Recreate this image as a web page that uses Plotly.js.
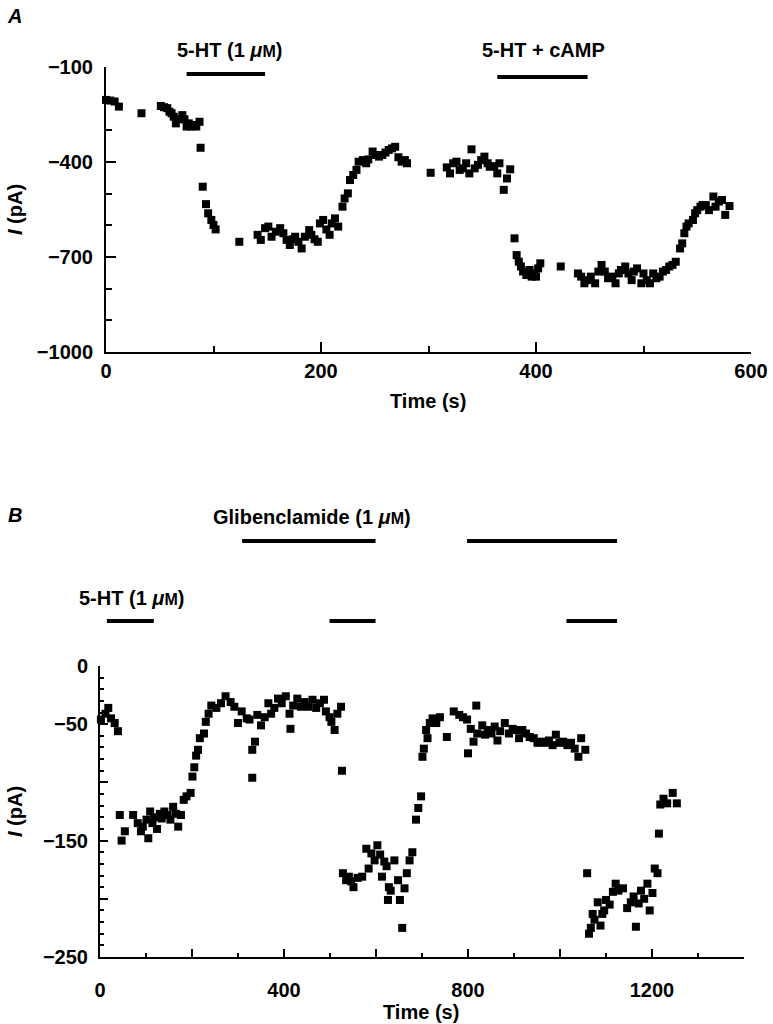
<!DOCTYPE html>
<html><head><meta charset="utf-8">
<script src="https://cdn.plot.ly/plotly-3.0.1.min.js"></script>
<style>body{margin:0;background:#fff}#chart{width:773px;height:1024px}</style>
</head><body><div id="chart"></div>
<script>
// ---- Panel A data: time (s) and current (pA)
const aTime = [0,4,8,12,33,51,54,57,59,61,63,65,67,71,73,75,77,79,82,84,87,88,90,93,95,98,100,102,124,141,144,148,151,154,158,162,165,168,171,174,176,179,182,185,189,191,194,197,199,202,205,208,210,213,216,220,222,225,227,230,233,235,239,242,244,248,251,254,257,260,263,266,269,272,275,278,280,302,317,320,323,326,329,332,335,338,340,343,346,349,352,355,357,361,364,366,370,373,376,380,382,384,386,388,391,394,396,399,400,402,404,423,439,442,445,448,451,455,458,461,464,467,471,474,477,479,483,486,489,491,494,498,500,503,506,509,512,515,518,521,524,527,530,534,536,538,540,542,546,548,550,553,555,558,561,565,567,570,573,576,580];
const aCurrent = [-204,-206,-209,-225,-246,-223,-227,-230,-241,-246,-257,-278,-265,-252,-265,-288,-278,-288,-283,-288,-273,-355,-478,-533,-562,-583,-599,-613,-652,-630,-646,-609,-604,-636,-620,-609,-625,-646,-662,-644,-636,-652,-673,-636,-615,-630,-644,-652,-594,-583,-613,-630,-594,-578,-604,-541,-515,-499,-457,-441,-425,-399,-394,-404,-392,-367,-378,-383,-378,-370,-362,-357,-352,-385,-399,-394,-404,-434,-417,-436,-404,-399,-425,-420,-404,-436,-360,-420,-409,-394,-383,-404,-415,-413,-436,-404,-488,-452,-423,-641,-694,-715,-730,-746,-757,-741,-762,-752,-762,-736,-720,-730,-752,-762,-783,-773,-762,-783,-746,-725,-746,-767,-762,-783,-752,-741,-730,-752,-773,-746,-736,-783,-752,-773,-783,-752,-767,-762,-746,-741,-730,-725,-715,-673,-657,-625,-604,-594,-583,-562,-552,-541,-536,-536,-552,-509,-541,-525,-520,-567,-539];

// ---- Panel B data: time (s) and current (pA)
const bTime = [2,12,18,24,32,39,43,47,54,72,82,89,93,101,105,109,114,118,124,130,134,140,147,153,159,165,170,176,182,188,197,201,205,209,213,217,226,230,236,242,253,263,273,284,292,300,308,319,325,331,337,331,342,350,358,366,372,379,387,395,404,412,414,420,429,437,445,453,462,470,478,487,491,499,503,510,516,524,526,528,535,541,546,551,560,570,579,584,590,597,603,609,613,618,623,628,626,632,640,648,652,657,662,667,673,679,687,692,698,701,704,709,712,717,723,731,739,754,769,781,789,798,800,806,812,818,820,831,837,843,851,858,864,870,880,889,897,905,911,918,926,934,943,951,959,967,976,984,991,999,1007,1016,1024,1032,1040,1046,1055,1059,1063,1067,1071,1075,1082,1088,1092,1096,1100,1108,1115,1121,1127,1137,1146,1154,1160,1165,1171,1176,1183,1190,1195,1201,1206,1212,1215,1218,1225,1233,1245,1254];
const bCurrent = [-46,-41,-36,-45,-49,-56,-128,-150,-142,-128,-135,-142,-138,-132,-148,-125,-135,-130,-140,-127,-131,-125,-128,-132,-121,-127,-138,-128,-115,-112,-109,-95,-87,-77,-72,-62,-58,-48,-41,-34,-36,-32,-26,-31,-35,-49,-39,-45,-46,-72,-65,-96,-42,-51,-44,-32,-41,-36,-28,-32,-26,-41,-54,-34,-28,-35,-31,-35,-29,-36,-32,-29,-39,-44,-48,-55,-41,-35,-90,-178,-184,-181,-185,-190,-182,-181,-157,-174,-161,-167,-154,-162,-181,-168,-172,-190,-201,-193,-167,-184,-201,-225,-191,-178,-167,-160,-132,-122,-112,-78,-71,-55,-62,-49,-45,-49,-44,-61,-39,-42,-44,-46,-75,-54,-65,-34,-58,-51,-59,-55,-58,-52,-64,-56,-49,-58,-54,-55,-62,-55,-58,-61,-62,-66,-65,-66,-64,-68,-59,-66,-65,-68,-66,-71,-78,-62,-72,-178,-230,-225,-213,-218,-203,-223,-213,-210,-201,-205,-194,-187,-193,-191,-208,-203,-198,-224,-204,-193,-200,-187,-210,-195,-174,-178,-144,-119,-114,-118,-109,-118];

// ---- Drug application periods (s)
const aBarLabels = ['5-HT (1 <i>μ</i><span style="font-size:16px">M</span>)', '5-HT + cAMP'];
const aBarStart = [75, 364];
const aBarEnd = [148, 448];
const bGlibLabel = 'Glibenclamide (1 <i>μ</i><span style="font-size:16px">M</span>)';
const bGlibStart = [309, 798];
const bGlibEnd = [599, 1124];
const bHTLabel = '5-HT (1 <i>μ</i><span style="font-size:16px">M</span>)';
const bHTStart = [15, 499, 1014];
const bHTEnd = [117, 599, 1124];

// ---- Tick labels
const bXTickVals = [0,200,400,600,800,1000,1200,1400];
const bXTickText = ['0','','400','','800','','1200',''];
const bYTickVals = [0,-50,-100,-150,-200,-250];
const bYTickText = ['0','\u221250','','\u2212150','','\u2212250'];

const W = 773, H = 1024;
const px = v => v / W;
const py = v => 1 - v / H;
const FONT = {family: 'Liberation Sans, Arial, sans-serif', size: 20, color: '#000', weight: 'bold'};

const marker = {symbol: 'square', size: 8, color: '#000', line: {width: 0}};
const traces = [
  {x: aTime, y: aCurrent, xaxis: 'x', yaxis: 'y', type: 'scatter', mode: 'markers', marker, cliponaxis: false, hoverinfo: 'skip'},
  {x: bTime, y: bCurrent, xaxis: 'x2', yaxis: 'y2', type: 'scatter', mode: 'markers', marker, cliponaxis: false, hoverinfo: 'skip'}
];

const axisCommon = {
  showline: true, linewidth: 2, linecolor: '#000', mirror: false,
  showgrid: false, zeroline: false, ticks: 'inside', tickwidth: 2,
  tickcolor: '#000', tickfont: FONT, fixedrange: true
};

const shapes = [];
const barLine = {color: '#000', width: 4};
aBarStart.forEach((s, i) => shapes.push({type: 'line', xref: 'x', yref: 'paper', x0: s, x1: aBarEnd[i], y0: py(i === 0 ? 74 : 77), y1: py(i === 0 ? 74 : 77), line: barLine}));
bGlibStart.forEach((s, i) => shapes.push({type: 'line', xref: 'x2', yref: 'paper', x0: s, x1: bGlibEnd[i], y0: py(541), y1: py(541), line: barLine}));
bHTStart.forEach((s, i) => shapes.push({type: 'line', xref: 'x2', yref: 'paper', x0: s, x1: bHTEnd[i], y0: py(621), y1: py(621), line: barLine}));

const ann = (text, x, y, extra) => Object.assign({text, x: px(x), y: py(y), xref: 'paper', yref: 'paper', showarrow: false, xanchor: 'center', yanchor: 'middle', font: FONT}, extra || {});
const annotations = [
  ann('<i>A</i>', 15, 16),
  ann(aBarLabels[0], 229, 50),
  ann(aBarLabels[1], 543, 50),
  ann('<i>I</i> (pA)', 15, 209, {textangle: -90}),
  ann('Time (s)', 428, 401),
  ann('<i>B</i>', 15, 515),
  ann(bGlibLabel, 312, 517),
  ann(bHTLabel, 131, 598),
  ann('<i>I</i> (pA)', 15, 811, {textangle: -90}),
  ann('Time (s)', 421, 1012)
];

const layout = {
  width: W, height: H, margin: {l: 0, r: 0, t: 0, b: 0},
  paper_bgcolor: '#fff', plot_bgcolor: '#fff', showlegend: false, font: FONT,
  xaxis: Object.assign({}, axisCommon, {domain: [px(106), px(751)], range: [0, 600], anchor: 'y', tick0: 0, dtick: 200, ticklen: 10, ticklabelstandoff: 0,
    minor: {ticks: 'inside', ticklen: 6, tickwidth: 2, tickcolor: '#000', dtick: 100, tick0: 0, showgrid: false}}),
  yaxis: Object.assign({}, axisCommon, {domain: [py(352), py(67)], range: [-1000, -100], anchor: 'x', tick0: -100, dtick: 300, ticklen: 10, ticklabelstandoff: 7,
    minor: {ticks: 'inside', ticklen: 6, tickwidth: 2, tickcolor: '#000', dtick: 100, tick0: -100, showgrid: false}}),
  xaxis2: Object.assign({}, axisCommon, {domain: [px(100), px(744)], range: [0, 1400], anchor: 'y2', tickmode: 'array', tickvals: bXTickVals, ticktext: bXTickText, ticklen: 8, ticklabelstandoff: 14,
    minor: {ticks: 'inside', ticklen: 4, tickwidth: 2, tickcolor: '#000', dtick: 100, tick0: 0, showgrid: false}}),
  yaxis2: Object.assign({}, axisCommon, {domain: [py(957), py(666)], range: [-250, 0], anchor: 'x2', tickmode: 'array', tickvals: bYTickVals, ticktext: bYTickText, ticklen: 8, ticklabelstandoff: 6,
    minor: {ticks: 'inside', ticklen: 4, tickwidth: 2, tickcolor: '#000', dtick: 10, tick0: 0, showgrid: false}}),
  shapes, annotations
};

Plotly.newPlot('chart', traces, layout, {staticPlot: true, displayModeBar: false});
</script>
</body></html>
